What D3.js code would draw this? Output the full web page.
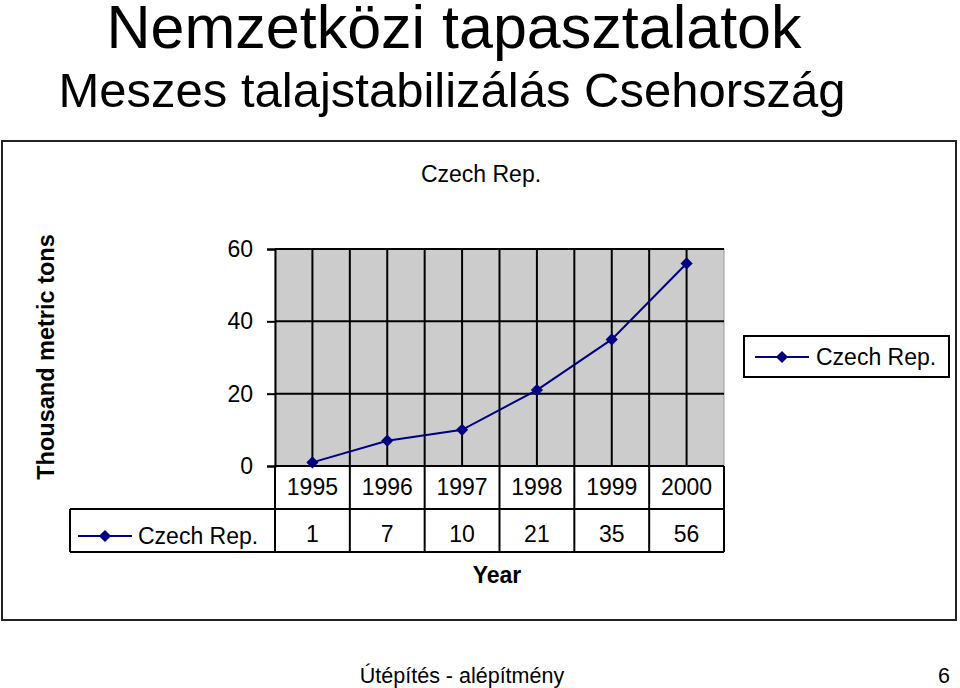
<!DOCTYPE html>
<html>
<head>
<meta charset="utf-8">
<script src="https://cdn.jsdelivr.net/npm/d3@7"></script>
<style>
  body { margin: 0; background: #fff; }
  text { font-family: "Liberation Sans", Arial, sans-serif; fill: #000; }
</style>
</head>
<body>
<div id="chart"></div>
<script>
// Data
const years = ["1995", "1996", "1997", "1998", "1999", "2000"];
const czechValues = [1, 7, 10, 21, 35, 56];
const yTicks = [0, 20, 40, 60];
const seriesName = "Czech Rep.";

const W = 960, H = 688;
const plot = {left: 275, right: 724, top: 249, bottom: 466};
const rowH = 43;
const navy = "#000080";

const svg = d3.select("#chart").append("svg")
    .attr("width", W).attr("height", H);

// Page titles
svg.append("text").attr("x", 454).attr("y", 48)
    .attr("text-anchor", "middle").attr("font-size", 61)
    .text("Nemzetközi tapasztalatok");
svg.append("text").attr("x", 452).attr("y", 107)
    .attr("text-anchor", "middle").attr("font-size", 49)
    .text("Meszes talajstabilizálás Csehország");

// Chart border
svg.append("rect").attr("x", 2).attr("y", 141).attr("width", 954).attr("height", 479)
    .attr("fill", "none").attr("stroke", "#222").attr("stroke-width", 2);

svg.append("text").attr("x", 481).attr("y", 182)
    .attr("text-anchor", "middle").attr("font-size", 23)
    .text(seriesName);

// Scales
const x = d3.scaleBand().domain(years).range([plot.left, plot.right]);
const y = d3.scaleLinear().domain([0, 60]).range([plot.bottom, plot.top]);
const cx = d => x(d) + x.bandwidth() / 2;

// Plot area
svg.append("rect").attr("x", plot.left).attr("y", plot.top)
    .attr("width", plot.right - plot.left).attr("height", plot.bottom - plot.top)
    .attr("fill", "#cccccc").attr("stroke", "#999").attr("stroke-width", 1);

// Horizontal grid lines
svg.append("g").selectAll("line").data(yTicks).join("line")
    .attr("x1", plot.left).attr("x2", plot.right)
    .attr("y1", d => y(d)).attr("y2", d => y(d))
    .attr("stroke", "#000").attr("stroke-width", 2);

// Vertical grid lines at category centres
svg.append("g").selectAll("line").data(years).join("line")
    .attr("x1", cx).attr("x2", cx)
    .attr("y1", plot.top).attr("y2", plot.bottom)
    .attr("stroke", "#000").attr("stroke-width", 2);

// Vertical lines at category boundaries, running down through the data table
const bounds = years.slice(1).map(d => x(d));
svg.append("g").selectAll("line").data(bounds).join("line")
    .attr("x1", d => d).attr("x2", d => d)
    .attr("y1", plot.top).attr("y2", plot.bottom + 2 * rowH)
    .attr("stroke", "#000").attr("stroke-width", 2);

// Y axis
const yAxis = svg.append("g")
    .attr("transform", `translate(${plot.left},0)`)
    .call(d3.axisLeft(y).tickValues(yTicks).tickSize(8).tickPadding(14));
yAxis.select(".domain").attr("stroke", "#000").attr("stroke-width", 2);
yAxis.selectAll(".tick line").attr("stroke", "#000").attr("stroke-width", 2);
yAxis.selectAll(".tick text").attr("font-size", 23).attr("fill", "#000")
    .attr("font-family", "Liberation Sans, Arial, sans-serif");

// Left axis line through the table
svg.append("line").attr("x1", plot.left).attr("x2", plot.left)
    .attr("y1", plot.bottom).attr("y2", plot.bottom + 2 * rowH)
    .attr("stroke", "#000").attr("stroke-width", 2);

// Data table lines
const tableLeft = 70;
svg.append("line").attr("x1", tableLeft).attr("x2", plot.right)
    .attr("y1", plot.bottom + rowH).attr("y2", plot.bottom + rowH)
    .attr("stroke", "#000").attr("stroke-width", 2);
svg.append("line").attr("x1", tableLeft).attr("x2", plot.right)
    .attr("y1", plot.bottom + 2 * rowH).attr("y2", plot.bottom + 2 * rowH)
    .attr("stroke", "#000").attr("stroke-width", 2);
svg.append("line").attr("x1", tableLeft).attr("x2", tableLeft)
    .attr("y1", plot.bottom + rowH).attr("y2", plot.bottom + 2 * rowH)
    .attr("stroke", "#000").attr("stroke-width", 2);
svg.append("line").attr("x1", plot.right).attr("x2", plot.right)
    .attr("y1", plot.bottom).attr("y2", plot.bottom + 2 * rowH)
    .attr("stroke", "#000").attr("stroke-width", 2);

// Year labels
svg.append("g").selectAll("text").data(years).join("text")
    .attr("x", cx).attr("y", plot.bottom + 29)
    .attr("text-anchor", "middle").attr("font-size", 23)
    .text(d => d);

// Value labels
svg.append("g").selectAll("text").data(czechValues).join("text")
    .attr("x", (d, i) => cx(years[i])).attr("y", plot.bottom + rowH + 33)
    .attr("text-anchor", "middle").attr("font-size", 23)
    .text(d => d);

// Legend key helper
const diamond = d3.symbol().type(d3.symbolDiamond2).size(95);
function legendKey(g, x0, x1, yk) {
    g.append("line").attr("x1", x0).attr("x2", x1).attr("y1", yk).attr("y2", yk)
        .attr("stroke", navy).attr("stroke-width", 2);
    g.append("path").attr("d", diamond)
        .attr("transform", `translate(${(x0 + x1) / 2},${yk})`)
        .attr("fill", navy);
}

// Key in the table
const tableKey = svg.append("g");
legendKey(tableKey, 78, 132, plot.bottom + rowH + 27);
tableKey.append("text").attr("x", 138).attr("y", plot.bottom + rowH + 35)
    .attr("font-size", 23).text(seriesName);

// Series line
const line = d3.line()
    .x((d, i) => cx(years[i]))
    .y(d => y(d));
svg.append("path").datum(czechValues)
    .attr("d", line).attr("fill", "none")
    .attr("stroke", navy).attr("stroke-width", 2);
svg.append("g").selectAll("path").data(czechValues).join("path")
    .attr("d", diamond)
    .attr("transform", (d, i) => `translate(${cx(years[i])},${y(d)})`)
    .attr("fill", navy);

// Legend
const legend = svg.append("g");
legend.append("rect").attr("x", 744).attr("y", 336).attr("width", 205).attr("height", 41)
    .attr("fill", "#fff").attr("stroke", "#000").attr("stroke-width", 2);
legendKey(legend, 755, 809, 357);
legend.append("text").attr("x", 816).attr("y", 365)
    .attr("font-size", 23).text(seriesName);

// Axis titles
svg.append("text")
    .attr("transform", "translate(54,357) rotate(-90)")
    .attr("text-anchor", "middle").attr("font-size", 23.5).attr("font-weight", "bold")
    .text("Thousand metric tons");
svg.append("text").attr("x", 497).attr("y", 583)
    .attr("text-anchor", "middle").attr("font-size", 23).attr("font-weight", "bold")
    .text("Year");

// Footer
svg.append("text").attr("x", 462).attr("y", 683)
    .attr("text-anchor", "middle").attr("font-size", 21.5)
    .text("Útépítés - alépítmény");
svg.append("text").attr("x", 950).attr("y", 683)
    .attr("text-anchor", "end").attr("font-size", 21.5)
    .text("6");
</script>
</body>
</html>
